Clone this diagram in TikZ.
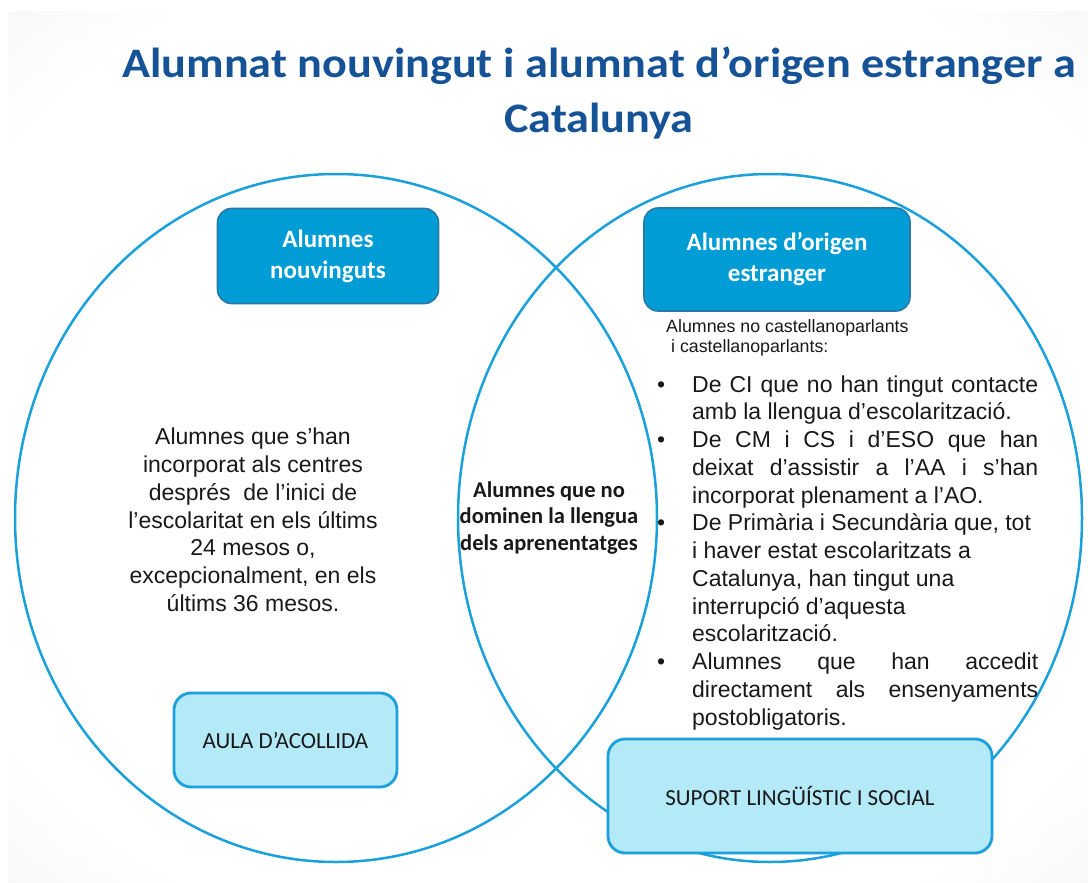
\documentclass[tikz,border=0pt]{standalone}
\usepackage{fontspec}
\setmainfont{Liberation Sans}
\newfontfamily\calib{Carlito}
\definecolor{ringblue}{RGB}{26,160,219}
\definecolor{darkfill}{RGB}{0,156,214}
\definecolor{darkedge}{RGB}{40,120,170}
\definecolor{lightfill}{RGB}{180,234,247}
\definecolor{lightedge}{RGB}{26,160,219}
\definecolor{titleblue}{RGB}{22,82,150}
\definecolor{txt}{RGB}{25,25,25}
\pgfdeclareradialshading{vign}{\pgfpoint{0bp}{0bp}}{color(0bp)=(white); color(30bp)=(white); color(50bp)=(black!10); color(70bp)=(black!16)}
\begin{document}
\begin{tikzpicture}[x=1pt,y=-1pt,
  ring/.style={draw=ringblue, line width=2.5pt},
  headbox/.style={draw=darkedge, line width=1.6pt, fill=darkfill, rounded corners=14pt,
     text=white, font=\calib\bfseries\fontsize{25}{31}\selectfont, align=center, inner sep=0pt},
  footbox/.style={draw=lightedge, line width=2.8pt, fill=lightfill, rounded corners=17pt,
     text=txt, font=\calib\fontsize{23}{27}\selectfont, align=center, inner sep=0pt},
  body/.style={text=txt, font=\fontsize{23}{27.75}\selectfont, inner sep=0pt}
]
\useasboundingbox (0,0) rectangle (1088,883);
\fill[white] (0,0) rectangle (1088,883);
\shade[shading=vign] (8,12) rectangle (1088,883);

% title (base anchor = baseline of last line)
\node[text=titleblue, font=\calib\bfseries\fontsize{42}{55}\selectfont, align=center, anchor=base, inner sep=0pt, xscale=1.1, transform shape]
  (title) at (599,132) {Alumnat nouvingut i alumnat d’origen estranger a\\Catalunya};

% Venn circles
\draw[ring] (336,518) ellipse [x radius=321, y radius=344];
\draw[ring] (770,518) ellipse [x radius=312, y radius=344];

% header boxes
\node[headbox, minimum width=221pt, minimum height=95pt] (nouv) at (328,256) {Alumnes\\nouvinguts};
\node[headbox, minimum width=266pt, minimum height=103pt] (orig) at (777,259.5) {Alumnes d’origen\\estranger};

% left text
\node[body, align=center] (left) at (253,520) {Alumnes que s’han\\incorporat als centres\\després\ \ de l’inici de\\l’escolaritat en els últims\\24 mesos o,\\excepcionalment, en els\\últims 36 mesos.};

% centre text
\node[text=txt, font=\calib\bfseries\fontsize{22.5}{26.5}\selectfont, align=center, inner sep=0pt]
  (mid) at (549,518) {Alumnes que no\\dominen la llengua\\dels aprenentatges};

% right intro
\node[text=txt, font=\fontsize{17.8}{20}\selectfont, align=left, anchor=base west, inner sep=0pt]
  (intro) at (666,352) {Alumnes no castellanoparlants\\\ i castellanoparlants:};

% right list
\newcommand{\bul}{\makebox[35pt][l]{\textbullet}}
\newcommand{\nob}{\makebox[35pt][l]{}}
\node[body, align=left, anchor=base west] (list) at (657,725) {%
\bul\makebox[346pt][s]{De CI que no han tingut contacte}\\
\nob amb la llengua d’escolarització.\\
\bul\makebox[346pt][s]{De CM i CS i d’ESO que han}\\
\nob\makebox[346pt][s]{deixat d’assistir a l’AA i s’han}\\
\nob incorporat plenament a l’AO.\\
\bul De Primària i Secundària que, tot\\
\nob i haver estat escolaritzats a\\
\nob Catalunya, han tingut una\\
\nob interrupció d’aquesta\\
\nob escolarització.\\
\bul\makebox[346pt][s]{Alumnes que han accedit}\\
\nob\makebox[346pt][s]{directament als ensenyaments}\\
\nob postobligatoris.};

% footer boxes
\node[footbox, minimum width=223pt, minimum height=94pt] (aula) at (285.5,740) {AULA D’ACOLLIDA};
\node[footbox, minimum width=384pt, minimum height=114pt] (suport) at (800,796) {SUPORT LINGÜÍSTIC I SOCIAL};
\end{tikzpicture}
\end{document}
